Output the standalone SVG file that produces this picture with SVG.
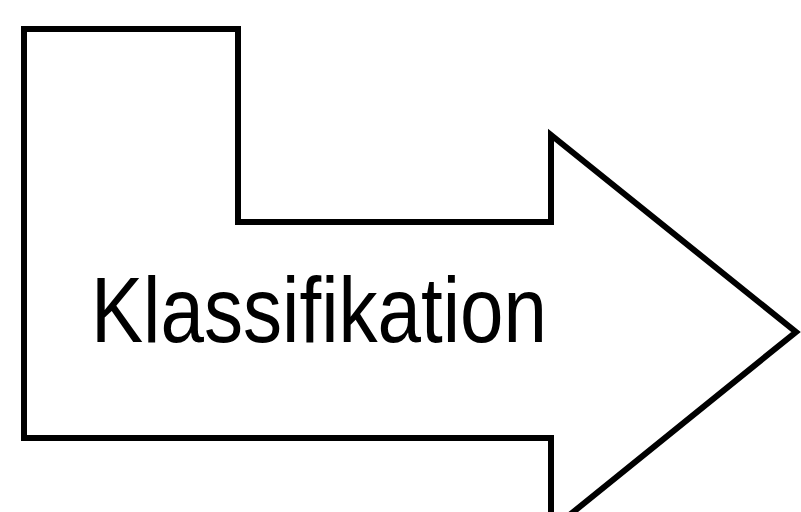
<svg xmlns="http://www.w3.org/2000/svg" width="801" height="512" viewBox="0 0 801 512">
  <style>
    .outline { fill: #ffffff; stroke: #000000; stroke-width: 6; stroke-linejoin: miter; stroke-miterlimit: 10; }
    .label { font-family: "Liberation Sans", Arial, sans-serif; font-size: 92px; fill: #000000; }
  </style>
  <rect width="801" height="512" fill="#ffffff"/>
  <g id="bent-arrow">
    <path class="outline" d="M24,29 L238,29 L238,222 L551,222 L551,135 L796,332 L551,530 L551,438 L24,438 Z"/>
    <text class="label" x="91" y="342" textLength="456" lengthAdjust="spacingAndGlyphs">Klassifikation</text>
  </g>
</svg>
